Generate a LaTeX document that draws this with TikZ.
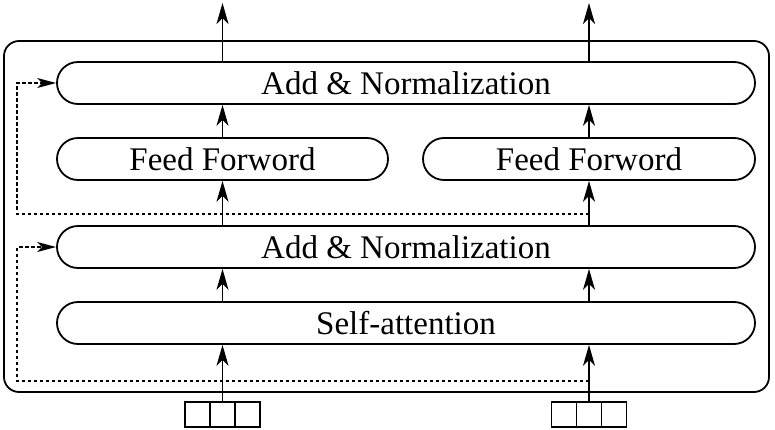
\documentclass[tikz,border=0pt]{standalone}
\usepackage{fontspec}
\setmainfont{Liberation Serif}
\newfontfamily\tmsfont{Liberation Serif}
\usetikzlibrary{arrows.meta}
\begin{document}
\begin{tikzpicture}[x=1pt,y=-1pt,
  blk/.style={draw, line width=1.8pt, rounded corners=21pt, minimum height=42pt, inner sep=0pt, font=\tmsfont\fontsize{33}{36}\selectfont},
  cell/.style={draw, line width=1.8pt, minimum width=25pt, minimum height=25pt, inner sep=0pt},
  arr/.style={line width=1.8pt, -{Stealth[length=21pt,width=12pt,inset=6pt]}},
  darr/.style={line width=1.4pt, dash pattern=on 3.5pt off 2.5pt, -{Stealth[length=19pt,width=10pt,inset=5pt]}},
]
\useasboundingbox (0,0) rectangle (775,430);
\draw[line width=1.8pt, rounded corners=15pt] (4,41) rectangle (769,392);
\node[blk, minimum width=698pt] (an2) at (406,83) {Add \& Normalization};
\node[blk, minimum width=331pt] (ff1) at (222.5,159) {Feed Forword};
\node[blk, minimum width=332pt] (ff2) at (589,159) {Feed Forword};
\node[blk, minimum width=698pt] (an1) at (406,247) {Add \& Normalization};
\node[blk, minimum width=698pt] (sa) at (406,323) {Self-attention};
% inputs
\node[cell] (l1) at (197.5,414.5) {};
\node[cell] (l2) at (222.5,414.5) {};
\node[cell] (l3) at (247.5,414.5) {};
\node[cell] (r1) at (564,414.5) {};
\node[cell] (r2) at (589,414.5) {};
\node[cell] (r3) at (614,414.5) {};
\coordinate (oL) at (222.5,3);
\coordinate (oR) at (589,3);
% left column
\draw[arr] (l2.north) -- (l2.north |- sa.south);
\draw[arr] (l2.north |- sa.north) -- (l2.north |- an1.south);
\draw[arr] (l2.north |- an1.north) -- (ff1.south);
\draw[arr] (ff1.north) -- (ff1.north |- an2.south);
\draw[arr] (ff1.north |- an2.north) -- (oL);
% right column
\draw[arr] (r2.north) -- (r2.north |- sa.south);
\draw[arr] (r2.north |- sa.north) -- (r2.north |- an1.south);
\draw[arr] (r2.north |- an1.north) -- (ff2.south);
\draw[arr] (ff2.north) -- (ff2.north |- an2.south);
\draw[arr] (ff2.north |- an2.north) -- (oR);
% residuals
\coordinate (d1s) at (589,381);
\coordinate (d1c) at (17,381);
\coordinate (d2s) at (589,214);
\coordinate (d2c) at (17,214);
\draw[darr] (d1s) -- (d1c) |- (an1.west);
\draw[darr] (d2s) -- (d2c) |- (an2.west);
\end{tikzpicture}
\end{document}
